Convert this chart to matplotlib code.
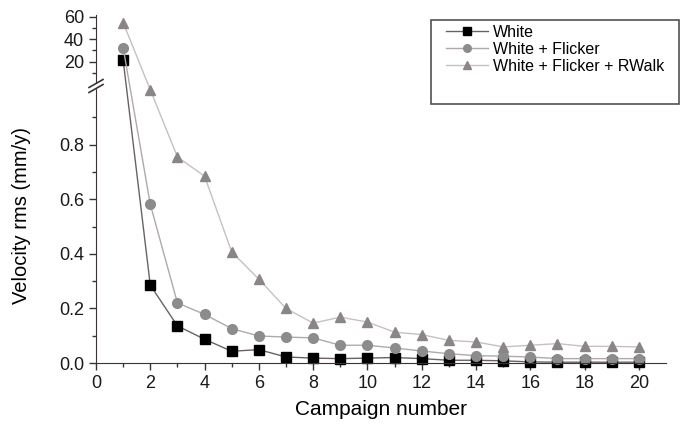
import numpy as np
import matplotlib.pyplot as plt
from matplotlib.lines import Line2D
from matplotlib.patches import Rectangle

plt.rcParams['font.family'] = ['Liberation Sans', 'DejaVu Sans']

campaign = list(range(1, 21))
white = [21.5, 0.285, 0.136, 0.087, 0.043, 0.049, 0.022, 0.018, 0.016, 0.018,
         0.020, 0.016, 0.010, 0.010, 0.008, 0.004, 0.003, 0.003, 0.003, 0.003]
flicker = [32.5, 0.581, 0.220, 0.178, 0.126, 0.099, 0.095, 0.092, 0.065, 0.065,
           0.055, 0.044, 0.034, 0.027, 0.025, 0.022, 0.016, 0.016, 0.016, 0.016]
rwalk = [54.8, 1.02, 0.755, 0.684, 0.407, 0.307, 0.200, 0.146, 0.168, 0.150,
         0.113, 0.104, 0.083, 0.077, 0.059, 0.065, 0.071, 0.061, 0.061, 0.059]
labels = ['White', 'White + Flicker', 'White + Flicker + RWalk']

styles = [
    dict(marker='s', color='#6a6262', mfc='black', mec='black', ms=7, lw=1.0),
    dict(marker='o', color='#b0a9a9', mfc='#8c8c8c', mec='#8c8c8c', ms=7, lw=1.0),
    dict(marker='^', color='#c8c0c0', mfc='#8a8686', mec='#8a8686', ms=7.5, lw=1.0),
]

W, H = 682, 432
x0, x1 = 96, 666
y_bot, y_brk_lo, y_brk_hi, y_top = 363, 90, 82, 15
px = 1.0 / (y_bot - y_brk_lo)          # lower-segment units per pixel
gap = (y_brk_lo - y_brk_hi) * px
hi0, hi1 = 2.0, 61.5
k = (y_brk_hi - y_top) * px / (hi1 - hi0)


# piecewise linear y scale: 0..1 below the break, 2..61.5 above it
def fwd(y):
    y = np.asarray(y, dtype=float)
    return np.where(y <= 1, y,
                    np.where(y <= hi0, 1 + (y - 1) * gap / (hi0 - 1),
                             1 + gap + (y - hi0) * k))


def inv(v):
    v = np.asarray(v, dtype=float)
    return np.where(v <= 1, v,
                    np.where(v <= 1 + gap, 1 + (v - 1) * (hi0 - 1) / gap,
                             hi0 + (v - 1 - gap) / k))


fig = plt.figure(figsize=(6.82, 4.32), dpi=100)
ax = fig.add_axes([x0 / W, 1 - y_bot / H, (x1 - x0) / W, (y_bot - y_top) / H])
ax.set_yscale('function', functions=(fwd, inv))

for ys, st in zip([white, flicker, rwalk], styles):
    ax.plot(campaign, ys, clip_on=False, **st)

spine_c = '#3a3333'
for s in ('top', 'right'):
    ax.spines[s].set_visible(False)
ax.spines['left'].set_color(spine_c)
ax.spines['bottom'].set_color(spine_c)
ax.tick_params(colors=spine_c, labelcolor='#1a1a1a', labelsize=13,
               width=1.0, length=5)
ax.tick_params(which='minor', colors=spine_c, width=1.0, length=3)

ax.set_xlim(0, 21)
ax.set_ylim(0, hi1)
ax.set_xticks(range(0, 21, 2))
ax.set_xticks(range(1, 21, 2), minor=True)
ax.set_yticks([0.0, 0.2, 0.4, 0.6, 0.8, 20, 40, 60])
ax.set_yticklabels(['0.0', '0.2', '0.4', '0.6', '0.8', '20', '40', '60'])
ax.set_yticks([0.1, 0.3, 0.5, 0.7, 0.9, 10, 30, 50], minor=True)
ax.set_xlabel('Campaign number', fontsize=15, labelpad=6)

fig.text(22 / W, 1 - 215 / H, 'Velocity rms (mm/y)', rotation=90,
         ha='center', va='center', fontsize=14.5)

# axis break marks
yb = (y_brk_lo + y_brk_hi) / 2
fig.add_artist(Rectangle(((x0 - 2) / W, 1 - (yb + 2) / H), 4 / W, 4 / H,
                         transform=fig.transFigure, color='white', zorder=5))
for dy in (-2.5, 2.5):
    fig.add_artist(Line2D([(x0 - 7) / W, (x0 + 7) / W],
                          [1 - (yb + dy + 4) / H, 1 - (yb + dy - 4) / H],
                          color=spine_c, lw=1.2, zorder=6))

# legend
fig.add_artist(Rectangle((431 / W, 1 - 104 / H), (679 - 431) / W, (104 - 20) / H,
                         transform=fig.transFigure, fill=False,
                         edgecolor='#555050', lw=1.2))
handles = [Line2D([], [], **st) for st in styles]
for h in handles:
    h.set_markersize(5.5)
fig.legend(handles, labels, loc='upper left', bbox_to_anchor=(446 / W, 1 - 25 / H),
           frameon=False, fontsize=11.5, handlelength=2.6, handletextpad=0.35,
           labelspacing=0.12, borderaxespad=0, borderpad=0)

fig.savefig('out.png', dpi=100)
